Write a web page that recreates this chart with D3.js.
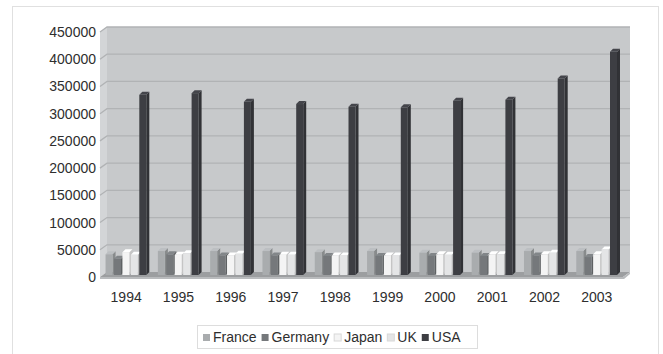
<!DOCTYPE html>
<html>
<head>
<meta charset="utf-8">
<script src="https://cdn.jsdelivr.net/npm/d3@7"></script>
<style>
  body { margin: 0; background: #fff; }
  text { font-family: "Liberation Sans", Arial, sans-serif; fill: #2e2e2e; }
</style>
</head>
<body>
<script>
//chart data
var years = ["1994","1995","1996","1997","1998","1999","2000","2001","2002","2003"];
var series = ["France","Germany","Japan","UK","USA"];
var france  = [38000, 44000, 44000, 44000, 42000, 44000, 41000, 41000, 44000, 44000];
var germany = [30000, 38000, 36000, 36000, 35000, 35000, 35000, 35000, 36000, 33000];
var japan   = [42000, 37000, 36000, 37000, 36000, 36000, 38000, 38000, 38000, 38000];
var uk      = [37000, 40000, 39000, 37000, 36000, 36000, 37000, 38000, 41000, 47000];
var usa     = [331000, 334000, 318000, 314000, 309000, 308000, 320000, 322000, 361000, 410000];
var yTicks  = [0, 50000, 100000, 150000, 200000, 250000, 300000, 350000, 400000, 450000];

var values = { France: france, Germany: germany, Japan: japan, UK: uk, USA: usa };
var colors = { France: "#a9acae", Germany: "#75787b", Japan: "#f4f4f4", UK: "#e4e5e6", USA: "#3d3e43" };

(function(){
    var width = 663, height = 354;
    var dx = 7, dy = 5; //depth offset of the back wall

    var svg = d3.select("body").append("svg")
        .attr("width", width)
        .attr("height", height);

    //outer frame
    svg.append("rect")
        .attr("x", 12.5).attr("y", 6.5)
        .attr("width", 646).attr("height", 360)
        .attr("fill", "none")
        .attr("stroke", "#e0e0e0");

    //front plane scales
    var x = d3.scaleBand().domain(years).range([100, 623]);
    var y = d3.scaleLinear().domain([0, 450000]).range([277, 32]);
    var xs = d3.scaleBand().domain(series).range([0, x.bandwidth()])
        .paddingOuter(0.6);

    //side wall
    svg.append("path")
        .attr("d", `M100,${y(0)} L100,${y(450000)} L${100+dx},${y(450000)-dy} L${100+dx},${y(0)-dy} Z`)
        .attr("fill", "#d3d5d7");

    //back wall
    svg.append("rect")
        .attr("x", 100 + dx).attr("y", y(450000) - dy)
        .attr("width", 523).attr("height", y(0) - y(450000))
        .attr("fill", "#c7c9cb");

    //gridlines on walls
    svg.selectAll(".grid")
        .data(yTicks.slice(1))
        .enter()
        .append("path")
        .attr("class", "grid")
        .attr("d", d => `M100,${y(d)} L${100+dx},${y(d)-dy} L${623+dx},${y(d)-dy}`)
        .attr("fill", "none")
        .attr("stroke", "#b1b3b5")
        .attr("stroke-width", 1.3);

    //floor
    svg.append("path")
        .attr("d", `M100,${y(0)} L623,${y(0)} L${623+dx},${y(0)-dy} L${100+dx},${y(0)-dy} Z`)
        .attr("fill", "#9c9ea0");
    svg.append("path")
        .attr("d", `M100,${y(0)} L623,${y(0)} L${623+dx},${y(0)-dy} L${623+dx},${y(0)-dy+2} L624,${y(0)+2} L100,${y(0)+2} Z`)
        .attr("fill", "#b9bbbd");

    //3d columns
    var bw = 7, bdx = 3, bdy = 3, base = y(0) - 2;
    var k = (y(0) - y(1)); //pixels per unit

    var groups = svg.selectAll(".year")
        .data(years)
        .enter()
        .append("g")
        .attr("class", "year")
        .attr("transform", d => `translate(${x(d)},0)`);

    groups.selectAll("g")
        .data(function(d, i){ return series.map(s => ({ s: s, v: values[s][i] })); })
        .enter()
        .append("g")
        .each(function(d){
            var g = d3.select(this);
            var x0 = xs(d.s) + 0.5, top = base - d.v * k;
            var c = d3.color(colors[d.s]);
            //side
            g.append("path")
                .attr("d", `M${x0+bw},${base} L${x0+bw},${top} L${x0+bw+bdx},${top-bdy} L${x0+bw+bdx},${base-bdy} Z`)
                .attr("fill", c.darker(0.6));
            //top
            g.append("path")
                .attr("d", `M${x0},${top} L${x0+bw},${top} L${x0+bw+bdx},${top-bdy} L${x0+bdx},${top-bdy} Z`)
                .attr("fill", c.brighter(0.3));
            //front
            g.append("rect")
                .attr("x", x0).attr("y", top)
                .attr("width", bw).attr("height", base - top)
                .attr("fill", c);
        });

    //y axis labels
    svg.selectAll(".ylab")
        .data(yTicks)
        .enter()
        .append("text")
        .attr("class", "ylab")
        .attr("x", 96)
        .attr("y", d => y(d) + 5)
        .attr("text-anchor", "end")
        .style("font-size", "14px")
        .text(d => d);

    //x axis labels
    svg.selectAll(".xlab")
        .data(years)
        .enter()
        .append("text")
        .attr("class", "xlab")
        .attr("x", d => x(d) + x.bandwidth() / 2)
        .attr("y", 302)
        .attr("text-anchor", "middle")
        .style("font-size", "14px")
        .text(d => d);

    //legend
    var legend = svg.append("g").attr("transform", "translate(197,325)");
    legend.append("rect")
        .attr("x", 0.5).attr("y", 0.5)
        .attr("width", 280).attr("height", 23)
        .attr("fill", "#fff")
        .attr("stroke", "#dddddd");

    var lx = 6;
    series.forEach(function(s){
        var item = legend.append("g").attr("transform", `translate(${lx},0)`);
        item.append("rect")
            .attr("x", 0).attr("y", 9)
            .attr("width", 7).attr("height", 7)
            .attr("fill", colors[s])
            .attr("stroke", s == "Japan" || s == "UK" ? "#d8d8d8" : "none");
        var t = item.append("text")
            .attr("x", 10).attr("y", 17)
            .style("font-size", "14px")
            .text(s);
        lx += 10 + t.node().getComputedTextLength() + 5;
    });
})();
</script>
</body>
</html>
